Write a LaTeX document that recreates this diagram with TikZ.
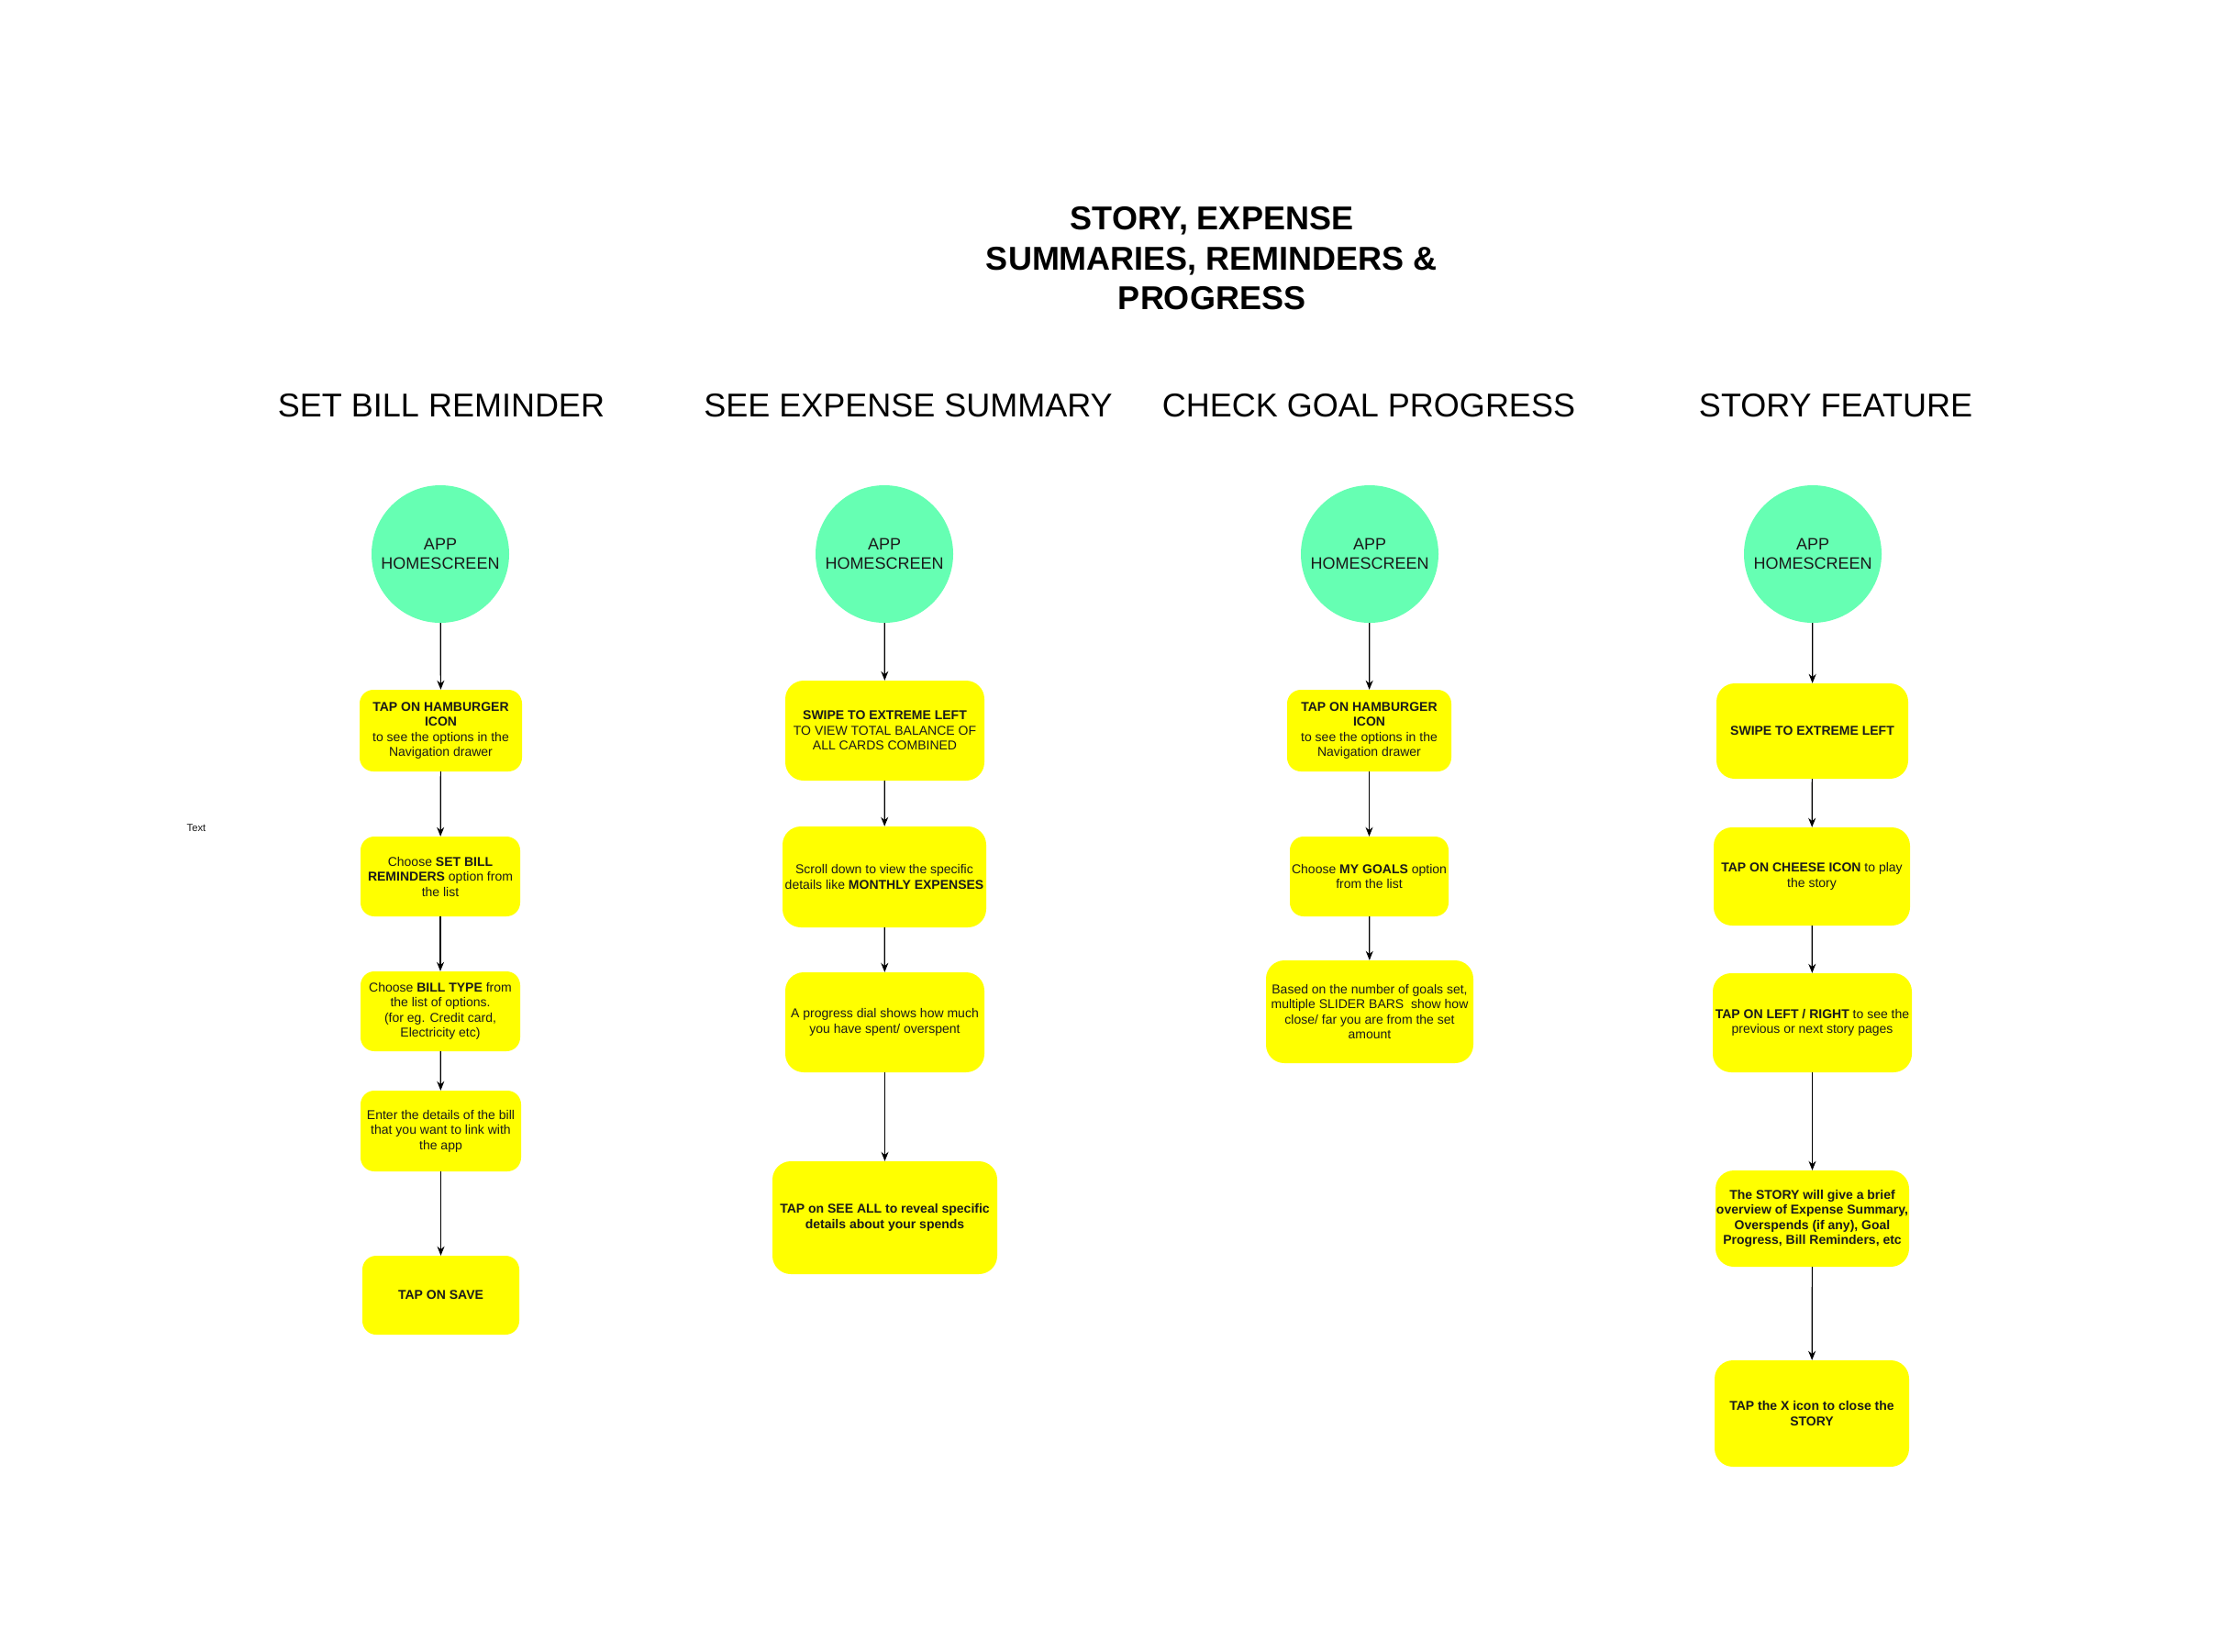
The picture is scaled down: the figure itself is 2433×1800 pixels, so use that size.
\documentclass[tikz,border=0pt]{standalone}
\usepackage{fontspec}
\setmainfont{Liberation Sans}
\usetikzlibrary{arrows.meta}
\definecolor{boxyellow}{HTML}{FFFF00}
\definecolor{circgreen}{HTML}{66FFB3}
\definecolor{txt}{HTML}{1A1A1A}
\newcommand{\boxfont}{\fontsize{14}{16.5}\selectfont}
\newcommand{\headfont}{\fontsize{36}{43}\selectfont}
\tikzset{
  stepbox/.style={fill=boxyellow, draw=none, rounded corners=15pt, align=center, inner sep=0pt, font=\boxfont, text=txt},
  bigbox/.style={stepbox, rounded corners=20pt},
  homecirc/.style={circle, fill=circgreen, draw=none, minimum size=150pt, inner sep=0pt, align=center, font=\fontsize{18}{21}\selectfont, text=txt},
  heading/.style={font=\headfont, text=black, inner sep=0pt},
  arr/.style={-{Stealth[length=10pt,width=8pt]}, line width=1.2pt, black}
}
\begin{document}
\begin{tikzpicture}[x=1pt,y=-1pt]
\useasboundingbox (0,0) rectangle (2433,1800);
\fill[white] (0,0) rectangle (2433,1800);

% title
\node[font=\fontsize{36}{43.5}\selectfont\bfseries, align=center, inner sep=0pt] (title) at (1321,282) {STORY, EXPENSE\\SUMMARIES, REMINDERS \&\\PROGRESS};

% headings
\node[heading] (h1) at (481,442) {SET BILL REMINDER};
\node[heading] (h2) at (990,442) {SEE EXPENSE SUMMARY};
\node[heading] (h3) at (1492,442) {CHECK GOAL PROGRESS};
\node[heading] (h4) at (2001,442) {STORY FEATURE};

\node[font=\fontsize{11.3}{13}\selectfont, text=txt, inner sep=0pt] (lbl) at (214,903) {Text};

% column 1
\node[homecirc] (c1) at (480,604) {APP\\HOMESCREEN};
\node[stepbox, minimum width=177pt, minimum height=89pt] (a1) at (480.5,796.5) {\textbf{TAP ON HAMBURGER}\\\textbf{ICON}\\to see the options in the\\Navigation drawer};
\node[stepbox, minimum width=174pt, minimum height=87pt] (a2) at (480,955.5) {Choose \textbf{SET BILL}\\\textbf{REMINDERS} option from\\the list};
\node[stepbox, minimum width=174pt, minimum height=87pt] (a3) at (480,1102.5) {Choose \textbf{BILL TYPE} from\\the list of options.\\(for eg. Credit card,\\Electricity etc)};
\node[stepbox, minimum width=175pt, minimum height=88pt] (a4) at (480.5,1233) {Enter the details of the bill\\that you want to link with\\the app};
\node[stepbox, minimum width=171pt, minimum height=86pt] (a5) at (480.5,1412) {\textbf{TAP ON SAVE}};
\draw[arr] (c1) -- (a1);
\draw[arr] (a1) -- (a2);
\draw[arr] (a2) -- (a3);
\draw[arr] (a3) -- (a4);
\draw[arr] (a4) -- (a5);

% column 2
\node[homecirc] (c2) at (964,604) {APP\\HOMESCREEN};
\node[bigbox, minimum width=217pt, minimum height=109pt] (b1) at (964.5,796.5) {\textbf{SWIPE TO EXTREME LEFT}\\TO VIEW TOTAL BALANCE OF\\ALL CARDS COMBINED};
\node[bigbox, minimum width=222pt, minimum height=110pt] (b2) at (964,956) {Scroll down to view the specific\\details like \textbf{MONTHLY EXPENSES}};
\node[bigbox, minimum width=217pt, minimum height=109pt] (b3) at (964.5,1114.5) {A progress dial shows how much\\you have spent/ overspent};
\node[bigbox, minimum width=245pt, minimum height=123pt] (b4) at (964.5,1327.5) {\textbf{TAP on SEE ALL to reveal specific}\\\textbf{details about your spends}};
\draw[arr] (c2) -- (b1);
\draw[arr] (b1) -- (b2);
\draw[arr] (b2) -- (b3);
\draw[arr] (b3) -- (b4);

% column 3
\node[homecirc] (c3) at (1493,604) {APP\\HOMESCREEN};
\node[stepbox, minimum width=179pt, minimum height=89pt] (d1) at (1492.5,796.5) {\textbf{TAP ON HAMBURGER}\\\textbf{ICON}\\to see the options in the\\Navigation drawer};
\node[stepbox, minimum width=173pt, minimum height=87pt] (d2) at (1492.5,955.5) {Choose \textbf{MY GOALS} option\\from the list};
\node[bigbox, minimum width=226pt, minimum height=112pt] (d3) at (1493,1103) {Based on the number of goals set,\\multiple SLIDER BARS\ \ show how\\close/ far you are from the set\\amount};
\draw[arr] (c3) -- (d1);
\draw[arr] (d1) -- (d2);
\draw[arr] (d2) -- (d3);

% column 4
\node[homecirc] (c4) at (1976,604) {APP\\HOMESCREEN};
\node[bigbox, minimum width=209pt, minimum height=104pt] (e1) at (1975.5,797) {\textbf{SWIPE TO EXTREME LEFT}};
\node[bigbox, minimum width=214pt, minimum height=107pt] (e2) at (1975,955.5) {\textbf{TAP ON CHEESE ICON} to play\\the story};
\node[bigbox, minimum width=217pt, minimum height=108pt] (e3) at (1975.5,1115) {\textbf{TAP ON LEFT / RIGHT} to see the\\previous or next story pages};
\node[bigbox, minimum width=211pt, minimum height=105pt] (e4) at (1975.5,1328.5) {\textbf{The STORY will give a brief}\\\textbf{overview of Expense Summary,}\\\textbf{Overspends (if any), Goal}\\\textbf{Progress, Bill Reminders, etc}};
\node[bigbox, minimum width=212pt, minimum height=116pt] (e5) at (1975,1541) {\textbf{TAP the X icon to close the}\\\textbf{STORY}};
\draw[arr] (c4) -- (e1);
\draw[arr] (e1) -- (e2);
\draw[arr] (e2) -- (e3);
\draw[arr] (e3) -- (e4);
\draw[arr] (e4) -- (e5);
\end{tikzpicture}
\end{document}
